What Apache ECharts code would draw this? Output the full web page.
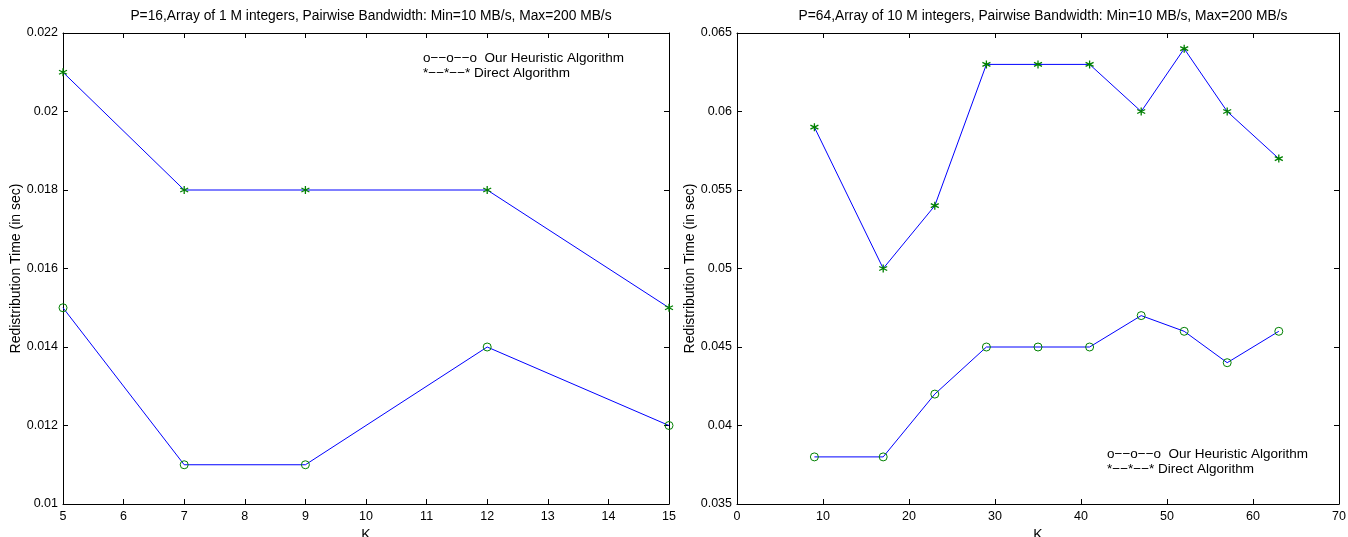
<!DOCTYPE html>
<html>
<head>
<meta charset="utf-8">
<script src="https://cdn.jsdelivr.net/npm/echarts@6/dist/echarts.min.js"></script>
<style>
html,body{margin:0;padding:0;background:#fff;}
#chart{width:1348px;height:537px;}
</style>
</head>
<body>
<div id="chart"></div>
<script>
// Left panel data
const leftTitle = 'P=16,Array of 1 M integers, Pairwise Bandwidth: Min=10 MB/s, Max=200 MB/s';
const leftK = [5, 7, 9, 12, 15];
const leftHeuristic = [0.015, 0.011, 0.011, 0.014, 0.012];
const leftDirect = [0.021, 0.018, 0.018, 0.018, 0.015];

// Right panel data
const rightTitle = 'P=64,Array of 10 M integers, Pairwise Bandwidth: Min=10 MB/s, Max=200 MB/s';
const rightK = [9, 17, 23, 29, 35, 41, 47, 52, 57, 63];
const rightHeuristic = [0.038, 0.038, 0.042, 0.045, 0.045, 0.045, 0.047, 0.046, 0.044, 0.046];
const rightDirect = [0.059, 0.050, 0.054, 0.063, 0.063, 0.063, 0.060, 0.064, 0.060, 0.057];

const legendHeuristic = 'o\u2212\u2212o\u2212\u2212o  Our Heuristic Algorithm';
const legendDirect = '*\u2212\u2212*\u2212\u2212* Direct Algorithm';
const yName = 'Redistribution Time (in sec)';
const xName = 'K';

const FONT = '"Liberation Sans", Arial, sans-serif';
const asterisk = 'path://M0,-5L0,5M-4.33,-2.5L4.33,2.5M-4.33,2.5L4.33,-2.5';

function pairs(xs, ys) { return xs.map((x, i) => [x, ys[i]]); }
function fmt(v) { return String(+v.toFixed(4)); }

const grids = [
  {left: 63, top: 33, width: 606, height: 471, containLabel: false, outerBoundsMode: 'none'},
  {left: 737, top: 33, width: 602, height: 471, containLabel: false, outerBoundsMode: 'none'}
];

const xRanges = [{min: 5, max: 15, interval: 1}, {min: 0, max: 70, interval: 10}];
const yRanges = [{min: 0.010, max: 0.022, interval: 0.002}, {min: 0.035, max: 0.065, interval: 0.005}];

const xAxis = [], yAxis = [];
[0, 1].forEach(g => {
  const axLine = {show: true, onZero: false, lineStyle: {color: '#000', width: 1}};
  const tick = {show: true, inside: true, length: 5, lineStyle: {color: '#000'}};
  xAxis.push(Object.assign({
    type: 'value', gridIndex: g, position: 'bottom',
    name: xName, nameLocation: 'middle', nameGap: 20,
    nameTextStyle: {fontFamily: FONT, fontSize: 14, color: '#000'},
    axisLine: axLine, axisTick: tick, splitLine: {show: false},
    axisLabel: {fontFamily: FONT, fontSize: 12.5, color: '#000', margin: 6, formatter: fmt}
  }, xRanges[g]));
  xAxis.push(Object.assign({
    type: 'value', gridIndex: g, position: 'top',
    axisLine: axLine, axisTick: tick, splitLine: {show: false},
    axisLabel: {show: false}
  }, xRanges[g]));
  yAxis.push(Object.assign({
    type: 'value', gridIndex: g, position: 'left',
    name: yName, nameLocation: 'middle', nameGap: 39,
    nameTextStyle: {fontFamily: FONT, fontSize: 14, color: '#000'},
    axisLine: axLine, axisTick: tick, splitLine: {show: false},
    axisLabel: {fontFamily: FONT, fontSize: 12.5, color: '#000', margin: 5, formatter: fmt}
  }, yRanges[g]));
  yAxis.push(Object.assign({
    type: 'value', gridIndex: g, position: 'right',
    axisLine: axLine, axisTick: tick, splitLine: {show: false},
    axisLabel: {show: false}
  }, yRanges[g]));
});

function lineSeries(g, xs, ys, symbol) {
  const isStar = symbol === 'star';
  return {
    type: 'line', xAxisIndex: g * 2, yAxisIndex: g * 2,
    data: pairs(xs, ys),
    symbol: isStar ? asterisk : 'circle',
    symbolSize: 8,
    showAllSymbol: true,
    lineStyle: {color: '#0000ff', width: 1},
    itemStyle: {color: isStar ? '#008000' : 'rgba(0,0,0,0)', borderColor: '#008000', borderWidth: isStar ? 1.3 : 1},
    emphasis: {disabled: true},
    animation: false,
    z: 3
  };
}

const series = [
  lineSeries(0, leftK, leftHeuristic, 'circle'),
  lineSeries(0, leftK, leftDirect, 'star'),
  lineSeries(1, rightK, rightHeuristic, 'circle'),
  lineSeries(1, rightK, rightDirect, 'star')
];

const textStyle = {fontFamily: FONT, fontSize: 13.5, fill: '#000'};
const graphic = [
  {type: 'text', left: 423, top: 51, style: Object.assign({text: legendHeuristic}, textStyle)},
  {type: 'text', left: 423, top: 66, style: Object.assign({text: legendDirect}, textStyle)},
  {type: 'text', left: 1107, top: 447, style: Object.assign({text: legendHeuristic}, textStyle)},
  {type: 'text', left: 1107, top: 462, style: Object.assign({text: legendDirect}, textStyle)}
];

const chart = echarts.init(document.getElementById('chart'), null, {renderer: 'canvas'});
chart.setOption({
  animation: false,
  backgroundColor: '#fff',
  title: [
    {text: leftTitle, left: 366, top: 4, textAlign: 'center',
     textStyle: {fontFamily: FONT, fontSize: 13.8, fontWeight: 'normal', color: '#000'}},
    {text: rightTitle, left: 1038, top: 4, textAlign: 'center',
     textStyle: {fontFamily: FONT, fontSize: 13.8, fontWeight: 'normal', color: '#000'}}
  ],
  grid: grids,
  xAxis: xAxis,
  yAxis: yAxis,
  series: series,
  graphic: graphic
});
</script>
</body>
</html>
